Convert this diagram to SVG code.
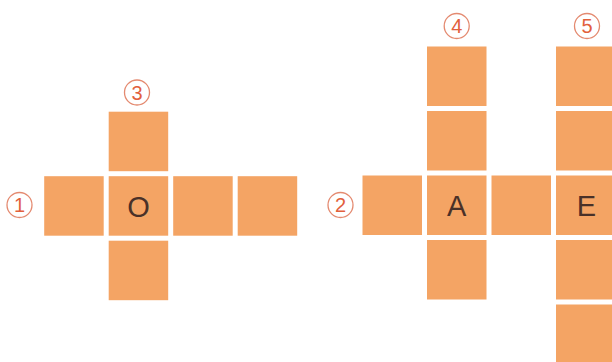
<svg xmlns="http://www.w3.org/2000/svg" width="612" height="362" viewBox="0 0 612 362">
<style>
.sq{fill:#F4A464}
.num circle{fill:none;stroke:#E48A70;stroke-width:1.3}
.num text{font-family:"Liberation Sans",Arial,sans-serif;font-size:20px;fill:#E2603C;text-anchor:middle}
.let{font-family:"Liberation Sans",Arial,sans-serif;font-size:29px;fill:#4A3128;text-anchor:middle}
</style>
<rect width="612" height="362" fill="#FFFFFF"/>
<g id="cross1">
<rect class="sq" x="108.7" y="111.7" width="59.5" height="59.5"/>
<rect class="sq" x="44.2" y="176.2" width="59.5" height="59.5"/>
<rect class="sq" x="108.7" y="176.2" width="59.5" height="59.5"/>
<rect class="sq" x="173.2" y="176.2" width="59.5" height="59.5"/>
<rect class="sq" x="237.7" y="176.2" width="59.5" height="59.5"/>
<rect class="sq" x="108.7" y="240.7" width="59.5" height="59.5"/>
<text class="let" x="138.5" y="216.5">O</text>
</g>
<g id="cross2">
<rect class="sq" x="427" y="46.5" width="59.5" height="59.5"/>
<rect class="sq" x="427" y="111" width="59.5" height="59.5"/>
<rect class="sq" x="362.5" y="175.5" width="59.5" height="59.5"/>
<rect class="sq" x="427" y="175.5" width="59.5" height="59.5"/>
<rect class="sq" x="491.5" y="175.5" width="59.5" height="59.5"/>
<rect class="sq" x="427" y="240" width="59.5" height="59.5"/>
<rect class="sq" x="556" y="46.5" width="59.5" height="59.5"/>
<rect class="sq" x="556" y="111" width="59.5" height="59.5"/>
<rect class="sq" x="556" y="175.5" width="59.5" height="59.5"/>
<rect class="sq" x="556" y="240" width="59.5" height="59.5"/>
<rect class="sq" x="556" y="304.5" width="59.5" height="59.5"/>
<text class="let" x="456.7" y="215.5">A</text>
<text class="let" x="586.5" y="215.5">E</text>
</g>
<g id="n1" class="num"><circle cx="19.5" cy="205" r="12.5"/><text x="19.5" y="212">1</text></g>
<g id="n2" class="num"><circle cx="340.5" cy="205" r="12.5"/><text x="340.5" y="212">2</text></g>
<g id="n3" class="num"><circle cx="137" cy="92.5" r="12.5"/><text x="137" y="99.5">3</text></g>
<g id="n4" class="num"><circle cx="456.7" cy="26" r="12.5"/><text x="456.7" y="33">4</text></g>
<g id="n5" class="num"><circle cx="587" cy="26" r="12.5"/><text x="587" y="33">5</text></g>
<g id="connectors"></g>
</svg>
